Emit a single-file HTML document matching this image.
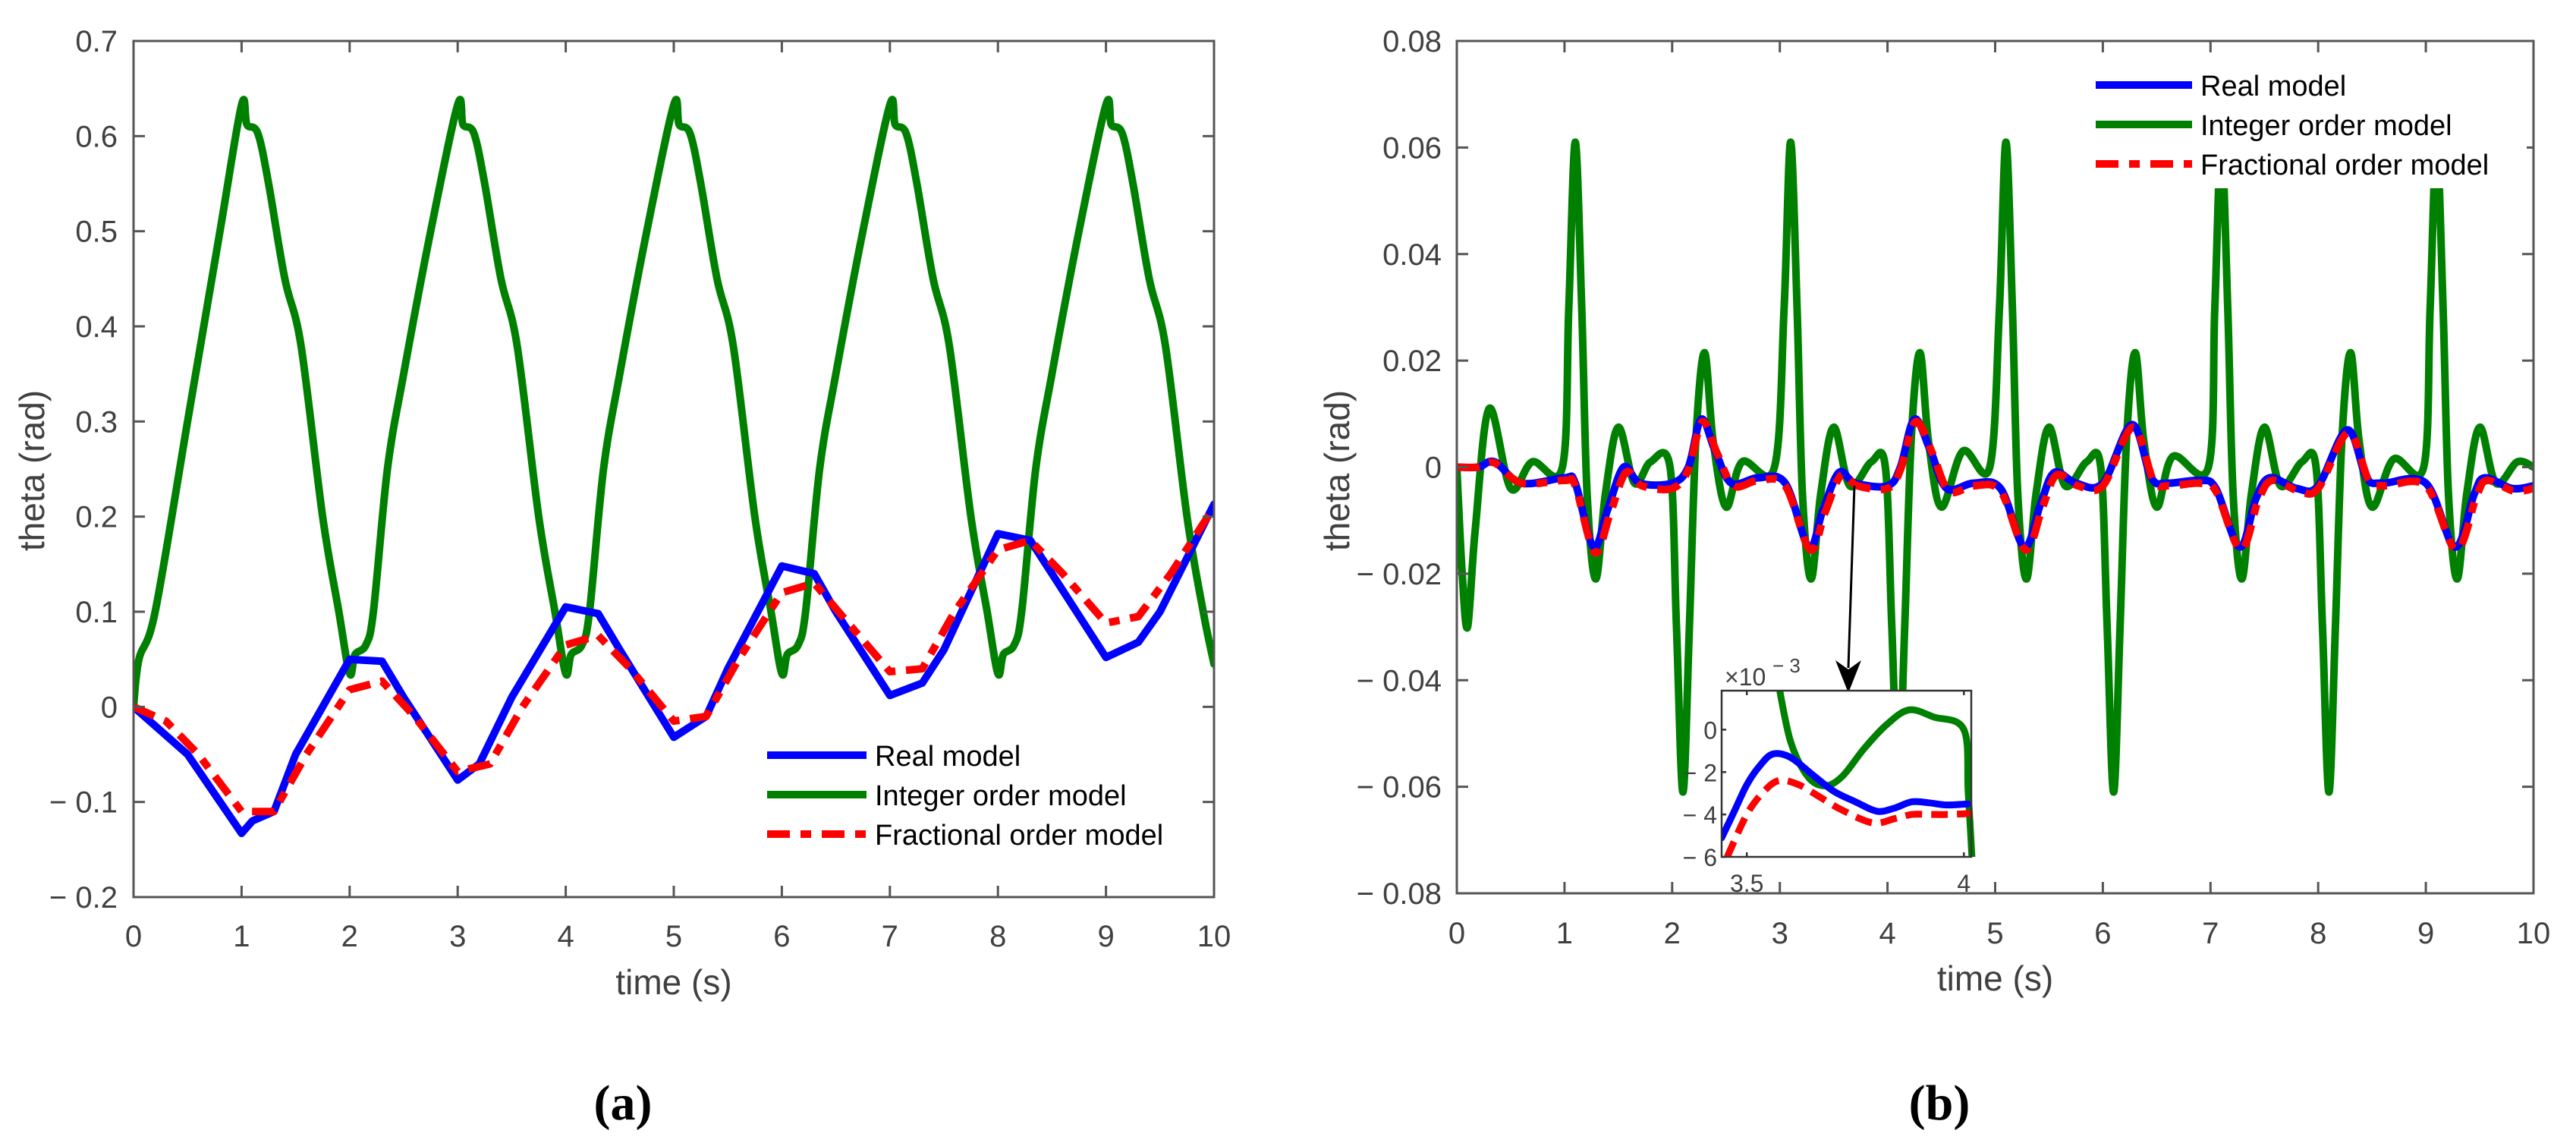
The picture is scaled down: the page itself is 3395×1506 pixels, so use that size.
<!DOCTYPE html>
<html><head><meta charset="utf-8">
<style>
html,body{margin:0;padding:0;background:#fff;}
svg{display:block;font-family:"Liberation Sans",Arial,sans-serif;}
</style></head>
<body>
<svg id="fig" width="3395" height="1506" viewBox="0 0 3395 1506" xmlns="http://www.w3.org/2000/svg">
<rect x="0" y="0" width="3395" height="1506" fill="#fff"/>
<g id="chartA"></g>
<g id="chartB"></g>
<text x="821" y="1475" font-family="Liberation Serif,serif" font-size="66" font-weight="bold" text-anchor="middle">(a)</text>
<text x="2556" y="1475" font-family="Liberation Serif,serif" font-size="66" font-weight="bold" text-anchor="middle">(b)</text>
</svg>
<script>
// ---------- Chart A data ----------
const aXTicks = [0,1,2,3,4,5,6,7,8,9,10];
const aYTicks = [-0.2,-0.1,0,0.1,0.2,0.3,0.4,0.5,0.6,0.7];
const aYTickLabels = ["\u2212 0.2","\u2212 0.1","0","0.1","0.2","0.3","0.4","0.5","0.6","0.7"];
const aRealT = [0,0.5,1.0,1.1,1.3,1.5,2.0,2.3,2.5,3.0,3.2,3.5,4.0,4.3,4.5,5.0,5.3,5.5,6.0,6.3,6.5,7.0,7.3,7.5,8.0,8.3,8.5,9.0,9.3,9.5,10];
const aRealV = [0,-0.05,-0.133,-0.12,-0.11,-0.05,0.05,0.048,0.01,-0.077,-0.06,0.01,0.105,0.098,0.06,-0.032,-0.01,0.04,0.148,0.14,0.1,0.012,0.025,0.06,0.182,0.175,0.14,0.052,0.068,0.1,0.213];
const aIntT = [0,0.05,0.2,0.5,0.8,1.0,1.05,1.15,1.25,1.4,1.55,1.75,1.9,2.0,2.05,2.15,2.22,2.35,2.5,2.75,3.0,3.05,3.15,3.25,3.4,3.55,3.75,3.9,4.0,4.05,4.15,4.22,4.35,4.5,4.75,5.0,5.05,5.15,5.25,5.4,5.55,5.75,5.9,6.0,6.05,6.15,6.22,6.35,6.5,6.75,7.0,7.05,7.15,7.25,7.4,7.55,7.75,7.9,8.0,8.05,8.15,8.22,8.35,8.5,8.75,9.0,9.05,9.15,9.25,9.4,9.55,9.75,9.9,10];
const aIntV = [0,0.05,0.1,0.3,0.5,0.633,0.612,0.603,0.55,0.45,0.38,0.2,0.1,0.035,0.055,0.065,0.1,0.25,0.35,0.5,0.633,0.612,0.603,0.55,0.45,0.38,0.2,0.1,0.035,0.055,0.065,0.1,0.25,0.35,0.5,0.633,0.612,0.603,0.55,0.45,0.38,0.2,0.1,0.035,0.055,0.065,0.1,0.25,0.35,0.5,0.633,0.612,0.603,0.55,0.45,0.38,0.2,0.1,0.035,0.055,0.065,0.1,0.25,0.35,0.5,0.633,0.612,0.603,0.55,0.45,0.38,0.2,0.1,0.045];
const aFracT = [0,0.3,0.6,1.0,1.3,1.6,2.0,2.3,2.6,3.0,3.3,3.6,4.0,4.3,4.6,5.0,5.3,5.6,6.0,6.3,6.6,7.0,7.3,7.6,8.0,8.3,8.6,9.0,9.3,9.6,10];
const aFracV = [0,-0.015,-0.05,-0.11,-0.11,-0.05,0.018,0.027,-0.01,-0.068,-0.06,0.0,0.065,0.075,0.04,-0.015,-0.01,0.05,0.12,0.13,0.09,0.037,0.04,0.1,0.165,0.175,0.14,0.088,0.095,0.14,0.21];

// ---------- Chart B data ----------
const bXTicks = [0,1,2,3,4,5,6,7,8,9,10];
const bYTicks = [-0.08,-0.06,-0.04,-0.02,0,0.02,0.04,0.06,0.08];
const bYTickLabels = ["\u2212 0.08","\u2212 0.06","\u2212 0.04","\u2212 0.02","0","0.02","0.04","0.06","0.08"];
const bIntT = [0,0.05,0.1,0.17,0.3,0.5,0.7,0.98,1.04,1.1,1.16,1.21,1.29,1.38,1.5,1.65,1.8,1.98,2.04,2.1,2.16,2.22,2.3,2.38,2.5,2.65,2.95,3.04,3.1,3.16,3.21,3.29,3.38,3.5,3.65,3.85,3.98,4.04,4.1,4.16,4.22,4.3,4.38,4.5,4.7,4.95,5.04,5.1,5.16,5.21,5.29,5.38,5.5,5.65,5.85,5.98,6.04,6.1,6.16,6.22,6.3,6.38,6.5,6.65,6.98,7.04,7.1,7.16,7.21,7.29,7.38,7.5,7.65,7.85,7.98,8.04,8.1,8.16,8.22,8.3,8.38,8.5,8.7,8.98,9.04,9.1,9.16,9.21,9.29,9.38,9.5,9.65,9.85,10];
const bIntV = [0,-0.02,-0.03,-0.012,0.011,-0.004,0.001,0,0.03,0.061,0.03,-0.005,-0.021,-0.005,0.0075,-0.003,0.001,0,-0.03,-0.061,-0.03,0.005,0.0215,0.005,-0.0075,0.001,0,0.03,0.061,0.03,-0.005,-0.021,-0.005,0.0075,-0.0035,0.001,0,-0.03,-0.06,-0.03,0.005,0.0215,0.005,-0.0075,0.003,0,0.03,0.061,0.03,-0.005,-0.021,-0.005,0.0075,-0.0035,0.001,0,-0.03,-0.061,-0.03,0.005,0.0215,0.005,-0.0075,0.002,0,0.03,0.061,0.03,-0.005,-0.021,-0.005,0.0075,-0.0035,0.001,0,-0.03,-0.061,-0.03,0.005,0.0215,0.005,-0.0075,0.0015,0,0.03,0.061,0.03,-0.005,-0.021,-0.005,0.0075,-0.003,0.001,0];
const bRealT = [0,0.2,0.35,0.6,1.0,1.1,1.27,1.4,1.55,1.7,2.0,2.15,2.27,2.4,2.55,2.8,3.05,3.27,3.4,3.55,3.7,4.0,4.12,4.25,4.4,4.55,4.8,5.05,5.27,5.42,5.55,5.75,6.0,6.27,6.45,6.6,6.9,7.05,7.27,7.42,7.55,7.8,8.0,8.27,8.45,8.6,9.0,9.27,9.45,9.55,9.8,10];
const bRealV = [0,0,0.001,-0.003,-0.002,-0.003,-0.015,-0.008,0,-0.003,-0.003,0,0.009,0.003,-0.003,-0.002,-0.003,-0.015,-0.008,-0.001,-0.003,-0.0035,0,0.009,0.003,-0.004,-0.003,-0.004,-0.015,-0.007,-0.001,-0.003,-0.003,0.008,-0.002,-0.003,-0.0025,-0.004,-0.015,-0.006,-0.002,-0.004,-0.0035,0.007,-0.002,-0.003,-0.003,-0.015,-0.005,-0.002,-0.004,-0.0035];
const bFracT = [0,0.2,0.35,0.6,1.0,1.1,1.28,1.42,1.57,1.72,2.0,2.15,2.28,2.42,2.57,2.8,3.05,3.28,3.42,3.57,3.72,4.0,4.12,4.26,4.42,4.57,4.8,5.05,5.28,5.44,5.57,5.77,6.0,6.28,6.47,6.62,6.9,7.05,7.28,7.44,7.57,7.82,8.0,8.28,8.47,8.62,9.0,9.28,9.47,9.57,9.82,10];
const bFracV = [0,0,0.0008,-0.003,-0.0025,-0.0035,-0.016,-0.009,-0.001,-0.0035,-0.004,-0.0005,0.0085,0.0025,-0.0035,-0.0025,-0.0035,-0.0155,-0.0085,-0.0015,-0.0035,-0.004,-0.0005,0.0085,0.0025,-0.0045,-0.0035,-0.0045,-0.0155,-0.0075,-0.0015,-0.0035,-0.0035,0.0075,-0.0025,-0.0035,-0.003,-0.0045,-0.0155,-0.0065,-0.0025,-0.0045,-0.004,0.0065,-0.0025,-0.0035,-0.0035,-0.0155,-0.0055,-0.0025,-0.0045,-0.004];

// ---------- Inset data (x1e-3) ----------
const inXTicks = [3.5,4];
const inXTickLabels = ["3.5","4"];
const inYTicks = [-6,-4,-2,0];
const inYTickLabels = ["\u2212 6","\u2212 4","\u2212 2","0"];
const inRealT = [3.442,3.47,3.5,3.53,3.56,3.6,3.65,3.7,3.75,3.8,3.84,3.88,3.92,3.96,4.01];
const inRealV = [-5.1,-3.9,-2.6,-1.7,-1.15,-1.3,-2.1,-2.9,-3.4,-3.85,-3.7,-3.4,-3.45,-3.55,-3.5];
const inFracT = [3.455,3.5,3.54,3.575,3.62,3.67,3.72,3.79,3.84,3.88,3.92,3.96,4.02];
const inFracV = [-6,-4.0,-2.9,-2.4,-2.6,-3.2,-3.8,-4.4,-4.2,-4.0,-4.0,-4.0,-3.95];
const inIntT = [3.57,3.6,3.64,3.68,3.72,3.77,3.82,3.873,3.93,4.0,4.01,4.02];
const inIntV = [2.5,-0.5,-2.2,-2.65,-2.2,-0.9,0.2,0.93,0.6,0.0,-3.0,-6.5];

const NS = "http://www.w3.org/2000/svg";
function mk(tag, attrs, parent){
  const e = document.createElementNS(NS, tag);
  for (const k in attrs) e.setAttribute(k, attrs[k]);
  parent.appendChild(e);
  return e;
}
function lin(d0,d1,r0,r1){ return v => r0 + (v-d0)/(d1-d0)*(r1-r0); }
function linearPath(T,V,sx,sy){
  return T.map((t,i)=>(i?'L':'M')+sx(t).toFixed(1)+','+sy(V[i]).toFixed(1)).join('');
}
function smoothPath(T,V,sx,sy){
  const P = T.map((t,i)=>[sx(t),sy(V[i])]);
  let d = 'M'+P[0][0].toFixed(1)+','+P[0][1].toFixed(1);
  for (let i=0;i<P.length-1;i++){
    const p0=P[Math.max(0,i-1)],p1=P[i],p2=P[i+1],p3=P[Math.min(P.length-1,i+2)];
    const c1x=p1[0]+(p2[0]-p0[0])/6, c1y=p1[1]+(p2[1]-p0[1])/6;
    const c2x=p2[0]-(p3[0]-p1[0])/6, c2y=p2[1]-(p3[1]-p1[1])/6;
    d+='C'+c1x.toFixed(1)+','+c1y.toFixed(1)+' '+c2x.toFixed(1)+','+c2y.toFixed(1)+' '+p2[0].toFixed(1)+','+p2[1].toFixed(1);
  }
  return d;
}
const AX = "#555";
const TXT = "#404040";

function axesBox(g, L, R, T, B, sx, sy, xt, yt, ylabels, opts){
  const box = mk('rect',{x:L,y:T,width:R-L,height:B-T,fill:'none',stroke:AX,'stroke-width':3},g);
  
  
  xt.forEach(v=>{
    const x=sx(v);
    const t1=mk('line',{x1:x,y1:B,x2:x,y2:B-15,stroke:AX,'stroke-width':3},g);
    
    
    const t2=mk('line',{x1:x,y1:T,x2:x,y2:T+15,stroke:AX,'stroke-width':3},g);
    
    
    const lb=mk('text',{x:x,y:opts.xLabelY,'font-size':40,fill:TXT,'text-anchor':'middle'},g);
    lb.textContent=String(v);
    
    
  });
  yt.forEach((v,i)=>{
    const y=sy(v);
    const t1=mk('line',{x1:L,y1:y,x2:L+15,y2:y,stroke:AX,'stroke-width':3},g);
    
    
    const t2=mk('line',{x1:R,y1:y,x2:R-15,y2:y,stroke:AX,'stroke-width':3},g);
    
    
    const lb=mk('text',{x:opts.yLabelX,y:y+14,'font-size':40,fill:TXT,'text-anchor':'end'},g);
    lb.textContent=ylabels[i];
    
    
  });
  const xl=mk('text',{x:(L+R)/2,y:opts.xTitleY,'font-size':46,fill:TXT,'text-anchor':'middle'},g);
  xl.textContent='time (s)';
  
  
  const yl=mk('text',{x:0,y:0,'font-size':46,fill:TXT,'text-anchor':'middle',transform:'translate('+opts.yTitleX+','+opts.yTitleY+') rotate(-90)'},g);
  yl.textContent='theta (rad)';
  
  
}
function series(g,d,color,dash,name,w){
  const p=mk('path',{d:d,fill:'none',stroke:color,'stroke-width':w||10,'stroke-linejoin':'round','stroke-linecap':dash?'butt':'round'},g);
  if(dash) p.setAttribute('stroke-dasharray',dash);
  
  
  return p;
}
function legend(g,x0,x1,tx,rows,bg){
  if(bg){
    const r=mk('rect',bg,g);
    r.setAttribute('fill','#fff');
    
    
  }
  const items=[['Real model','#0000ff',null],['Integer order model','#008000',null],['Fractional order model','#ff0000','30 14 14 14']];
  items.forEach((it,i)=>{
    const y=rows[i];
    const ln=mk('line',{x1:x0,y1:y,x2:x1,y2:y,stroke:it[1],'stroke-width':10},g);
    if(it[2]) ln.setAttribute('stroke-dasharray',it[2]);
    
    
    const t=mk('text',{x:tx,y:y+14,'font-size':38,fill:'#000'},g);
    t.textContent=it[0];
    
    
  });
}

// ----- Chart A -----
(function(){
  const g=document.getElementById('chartA');
  const L=176,R=1600,T=54,B=1182;
  const sx=lin(0,10,L,R), sy=lin(-0.2,0.7,B,T);
  const clip=mk('clipPath',{id:'clipA'},g);
  mk('rect',{x:L,y:T,width:R-L,height:B-T},clip);
  const sg=mk('g',{'clip-path':'url(#clipA)'},g);
  series(sg,smoothPath(aIntT,aIntV,sx,sy),'#008000',null,'integer-order-line');
  series(sg,linearPath(aRealT,aRealV,sx,sy),'#0000ff',null,'real-model-line');
  series(sg,linearPath(aFracT,aFracV,sx,sy),'#ff0000','30 14 14 14','fractional-order-line');
  axesBox(g,L,R,T,B,sx,sy,aXTicks,aYTicks,aYTickLabels,{xLabelY:1247,yLabelX:155,xTitleY:1310,yTitleX:58,yTitleY:620});
  legend(g,1011,1142,1153,[995,1047,1099]);
})();

// ----- Chart B -----
(function(){
  const g=document.getElementById('chartB');
  const L=1920,R=3339,T=54,B=1177;
  const sx=lin(0,10,L,R), sy=lin(-0.08,0.08,B,T);
  const clip=mk('clipPath',{id:'clipB'},g);
  mk('rect',{x:L,y:T,width:R-L,height:B-T},clip);
  const sg=mk('g',{'clip-path':'url(#clipB)'},g);
  series(sg,smoothPath(bIntT,bIntV,sx,sy),'#008000',null,'integer-order-line');
  series(sg,smoothPath(bRealT,bRealV,sx,sy),'#0000ff',null,'real-model-line');
  series(sg,smoothPath(bFracT,bFracV,sx,sy),'#ff0000','30 14 14 14','fractional-order-line');
  axesBox(g,L,R,T,B,sx,sy,bXTicks,bYTicks,bYTickLabels,{xLabelY:1243,yLabelX:1900,xTitleY:1305,yTitleX:1778,yTitleY:620});
  legend(g,2762,2889,2900,[112,164,216],{x:2745,y:80,width:585,height:168});

  const ar=mk('line',{x1:2444,y1:640,x2:2436,y2:880,stroke:'#000','stroke-width':3},g);
  
  
  const ah=mk('polygon',{points:'2419,870 2436,913 2453,870 2436,882',fill:'#000'},g);
  
  

  const iL=2269,iR=2598,iT=910,iB=1129;
  const ix=lin(3.442,4.017,iL,iR), iy=lin(-6,1.84,iB,iT);
  const ibg=mk('rect',{x:iL,y:iT,width:iR-iL,height:iB-iT,fill:'#fff'},g);
  
  
  const ic=mk('clipPath',{id:'clipIn'},g);
  mk('rect',{x:iL,y:iT,width:iR-iL+8,height:iB-iT},ic);
  const ig=mk('g',{'clip-path':'url(#clipIn)'},g);
  series(ig,smoothPath(inIntT,inIntV,ix,iy),'#008000',null,'inset-integer-line',9);
  series(ig,smoothPath(inRealT,inRealV,ix,iy),'#0000ff',null,'inset-real-line',9);
  series(ig,smoothPath(inFracT,inFracV,ix,iy),'#ff0000','22 12','inset-fractional-line',9);
  const ib=mk('rect',{x:iL,y:iT,width:iR-iL,height:iB-iT,fill:'none',stroke:'#333','stroke-width':2.5},g);
  
  
  inXTicks.forEach((v,i)=>{
    const x=ix(v);
    const t=mk('line',{x1:x,y1:iB,x2:x,y2:iB-6,stroke:'#333','stroke-width':2.5},g);
    
    
    mk('line',{x1:x,y1:iT,x2:x,y2:iT+6,stroke:'#333','stroke-width':2.5},g);
    const lb=mk('text',{x:x,y:iB+46,'font-size':32,fill:TXT,'text-anchor':'middle'},g);
    lb.textContent=inXTickLabels[i];
    
    
  });
  inYTicks.forEach((v,i)=>{
    const y=iy(v);
    const t=mk('line',{x1:iL,y1:y,x2:iL+6,y2:y,stroke:'#333','stroke-width':2.5},g);
    
    
    const lb=mk('text',{x:iL-6,y:y+12,'font-size':32,fill:TXT,'text-anchor':'end'},g);
    lb.textContent=inYTickLabels[i];
    
    
  });
  const ex=mk('text',{x:2273,y:903,'font-size':32,fill:TXT},g);
  ex.textContent='\u00d710';
  
  
  const ex2=mk('text',{x:2336,y:886,'font-size':26,fill:TXT},g);
  ex2.textContent='\u2212 3';
  
  
})();
</script>
</body></html>
